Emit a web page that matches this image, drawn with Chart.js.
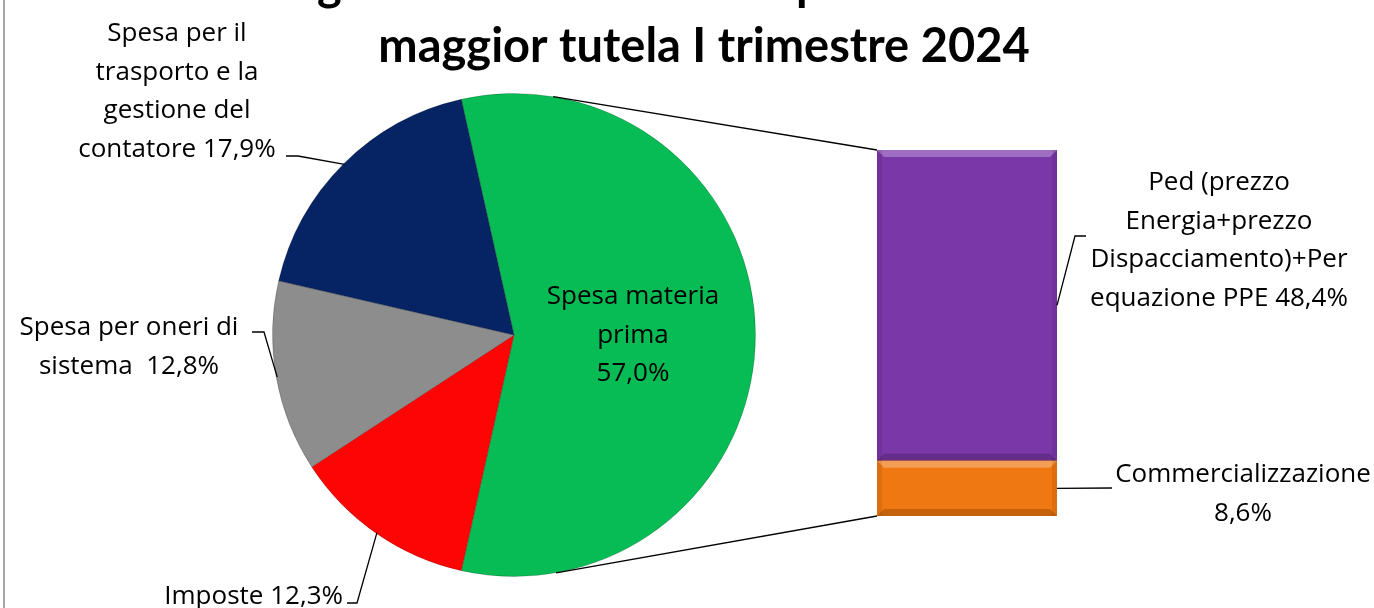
<!DOCTYPE html>
<html>
<head>
<meta charset="utf-8">
<script src="https://cdn.jsdelivr.net/npm/chart.js@4.4.1/dist/chart.umd.min.js"></script>
<style>
  html, body { margin: 0; padding: 0; background: #fff; }
  #wrap { position: relative; width: 1374px; height: 608px; overflow: hidden; }
  #wrap canvas { position: absolute; left: 0; top: 0; }
</style>
</head>
<body>
<div id="wrap">
  <canvas id="pieChart" width="1374" height="608"></canvas>
  <canvas id="barChart" width="1374" height="608"></canvas>
</div>
<script>
// dati (percentuali)
const pieLabels = ['Spesa materia prima', 'Imposte', 'Spesa per oneri di sistema', 'Spesa per il trasporto e la gestione del contatore'];
const pieValues = [57.0, 12.3, 12.8, 17.9];
const pieColors = ['#08BC55', '#FD0505', '#8D8D8D', '#062463'];

const barLabels = ['Commercializzazione', 'Ped (prezzo Energia+prezzo Dispacciamento)+Per equazione PPE'];
const barValues = [8.6, 48.4];
const barColors = ['#F07812', '#7A37A8'];

const titleLines = ['Ingredienti della bolletta per un cliente in', 'maggior tutela I trimestre 2024'];

const FONT = '"Open Sans", Lato, sans-serif';
const pct = (v) => v.toFixed(1).replace('.', ',') + '%';

// etichette: testo, posizione, spezzata di richiamo
const pieLabelText = [
  ['Spesa materia', 'prima', pct(pieValues[0])],
  ['Imposte ' + pct(pieValues[1])],
  ['Spesa per oneri di', 'sistema  ' + pct(pieValues[2])],
  ['Spesa per il', 'trasporto e la', 'gestione del', 'contatore ' + pct(pieValues[3])]
];
const pieLabelPos = [
  { x: 633, y: 304, align: 'center' },
  { x: 343, y: 604, align: 'right' },
  { x: 129, y: 335, align: 'center' },
  { x: 177, y: 41, align: 'center' }
];
const pieLeader = [null, [[347, 603], [357, 603]], [[252, 332], [264, 332]], [[286, 156], [298, 156]]];

const barLabelText = [
  ['Commercializzazione', pct(barValues[0])],
  ['Ped (prezzo', 'Energia+prezzo', 'Dispacciamento)+Per', 'equazione PPE ' + pct(barValues[1])]
];
const barLabelPos = [{ x: 1243, y: 482 }, { x: 1219, y: 190 }];
const barLeader = [[[1112, 488]], [[1075, 236], [1086, 236]]];

const LINE_H = 38.7;

function drawLines(ctx, lines, x, y, align) {
  ctx.save();
  ctx.fillStyle = '#000';
  ctx.font = '26px ' + FONT;
  ctx.textAlign = align || 'center';
  ctx.textBaseline = 'alphabetic';
  lines.forEach((t, i) => ctx.fillText(t, x, y + i * LINE_H));
  ctx.restore();
}

function polyline(ctx, pts) {
  ctx.save();
  ctx.strokeStyle = '#000';
  ctx.lineWidth = 1.3;
  ctx.beginPath();
  pts.forEach((p, i) => (i ? ctx.lineTo(p[0], p[1]) : ctx.moveTo(p[0], p[1])));
  ctx.stroke();
  ctx.restore();
}

const pieDecor = {
  id: 'pieDecor',
  beforeDraw(chart) {
    const ctx = chart.ctx;
    // titolo (la prima riga esce in alto); corpo adattato alla larghezza del titolo originale
    ctx.save();
    ctx.fillStyle = '#000';
    ctx.font = 'bold 40px Lato, sans-serif';
    const size = 40 * 652 / ctx.measureText(titleLines[1]).width;
    ctx.font = 'bold ' + size.toFixed(1) + 'px Lato, sans-serif';
    ctx.textAlign = 'center';
    ctx.fillText(titleLines[0], 704, 0);
    ctx.fillText(titleLines[1], 704, 62);
    ctx.restore();
    // bordo sinistro dell'area grafico
    ctx.save();
    ctx.strokeStyle = '#8a8a8a';
    ctx.lineWidth = 1.5;
    ctx.beginPath();
    ctx.moveTo(4, 0);
    ctx.lineTo(4, 608);
    ctx.stroke();
    ctx.restore();
  },
  afterDatasetsDraw(chart) {
    const ctx = chart.ctx;
    const arcs = chart.getDatasetMeta(0).data;
    arcs.forEach((arc, i) => {
      const p = arc.getProps(['x', 'y', 'startAngle', 'endAngle', 'outerRadius'], true);
      const mid = (p.startAngle + p.endAngle) / 2;
      if (pieLeader[i]) {
        const edge = [p.x + Math.cos(mid) * (p.outerRadius - 1), p.y + Math.sin(mid) * (p.outerRadius - 1)];
        polyline(ctx, pieLeader[i].concat([edge]));
      }
      const lp = pieLabelPos[i];
      drawLines(ctx, pieLabelText[i], lp.x, lp.y, lp.align);
    });
  }
};

const pieChart = new Chart(document.getElementById('pieChart'), {
  type: 'pie',
  data: {
    labels: pieLabels,
    datasets: [{
      data: pieValues,
      backgroundColor: pieColors,
      borderColor: 'rgba(0,0,0,0.18)',
      borderWidth: 1
    }]
  },
  options: {
    responsive: false,
    animation: false,
    rotation: 90 - pieValues[0] / pieValues.reduce((a, b) => a + b, 0) * 180,
    layout: { padding: { top: 93, bottom: 31, left: 272, right: 618 } },
    plugins: { legend: { display: false }, tooltip: { enabled: false } }
  },
  plugins: [pieDecor]
});

function tangentPoint(cx, cy, r, px, py, upper) {
  const dx = px - cx, dy = py - cy;
  const d = Math.hypot(dx, dy);
  const a = Math.atan2(dy, dx) + (upper ? -1 : 1) * Math.acos(r / d);
  return [cx + r * Math.cos(a), cy + r * Math.sin(a)];
}

const barDecor = {
  id: 'barDecor',
  afterDatasetsDraw(chart) {
    const ctx = chart.ctx;
    // effetto rilievo sui segmenti
    chart.data.datasets.forEach((ds, i) => {
      const b = chart.getDatasetMeta(i).data[0].getProps(['x', 'y', 'base', 'width'], true);
      const l = b.x - b.width / 2, r = b.x + b.width / 2, t = b.y, bt = b.base;
      ctx.save();
      ctx.fillStyle = 'rgba(255,255,255,0.28)';
      ctx.beginPath();
      ctx.moveTo(l, t); ctx.lineTo(r, t); ctx.lineTo(r - 7, t + 7); ctx.lineTo(l + 7, t + 7); ctx.closePath();
      ctx.fill();
      ctx.fillStyle = 'rgba(0,0,0,0.18)';
      ctx.beginPath();
      ctx.moveTo(l, bt); ctx.lineTo(r, bt); ctx.lineTo(r - 7, bt - 7); ctx.lineTo(l + 7, bt - 7); ctx.closePath();
      ctx.fill();
      ctx.fillStyle = 'rgba(0,0,0,0.08)';
      ctx.fillRect(l, t, 5, bt - t);
      ctx.fillRect(r - 5, t, 5, bt - t);
      ctx.restore();
    });
    // linee di collegamento torta -> barra (tangenti al cerchio)
    const arc = pieChart.getDatasetMeta(0).data[0].getProps(['x', 'y', 'outerRadius'], true);
    const top = chart.getDatasetMeta(1).data[0].getProps(['x', 'y', 'width'], true);
    const bottom = chart.getDatasetMeta(0).data[0].getProps(['x', 'base', 'width'], true);
    const tl = [top.x - top.width / 2, top.y];
    const bl = [bottom.x - bottom.width / 2, bottom.base];
    polyline(ctx, [tangentPoint(arc.x, arc.y, arc.outerRadius, tl[0], tl[1], true), tl]);
    polyline(ctx, [tangentPoint(arc.x, arc.y, arc.outerRadius, bl[0], bl[1], false), bl]);
    // etichette della barra
    chart.data.datasets.forEach((ds, i) => {
      const b = chart.getDatasetMeta(i).data[0].getProps(['x', 'y', 'base', 'width'], true);
      const edge = [b.x + b.width / 2, (b.y + b.base) / 2];
      polyline(ctx, [edge].concat(barLeader[i]));
      drawLines(ctx, barLabelText[i], barLabelPos[i].x, barLabelPos[i].y, 'center');
    });
  }
};

new Chart(document.getElementById('barChart'), {
  type: 'bar',
  data: {
    labels: [''],
    datasets: barValues.map((v, i) => ({
      label: barLabels[i],
      data: [v],
      backgroundColor: barColors[i],
      borderWidth: 0,
      barPercentage: 1,
      categoryPercentage: 1
    }))
  },
  options: {
    responsive: false,
    animation: false,
    layout: { padding: { top: 150, bottom: 92, left: 877, right: 317 } },
    scales: {
      x: { display: false, stacked: true },
      y: { display: false, stacked: true, min: 0, max: barValues.reduce((a, b) => a + b, 0) }
    },
    plugins: { legend: { display: false }, tooltip: { enabled: false } }
  },
  plugins: [barDecor]
});
</script>
</body>
</html>
